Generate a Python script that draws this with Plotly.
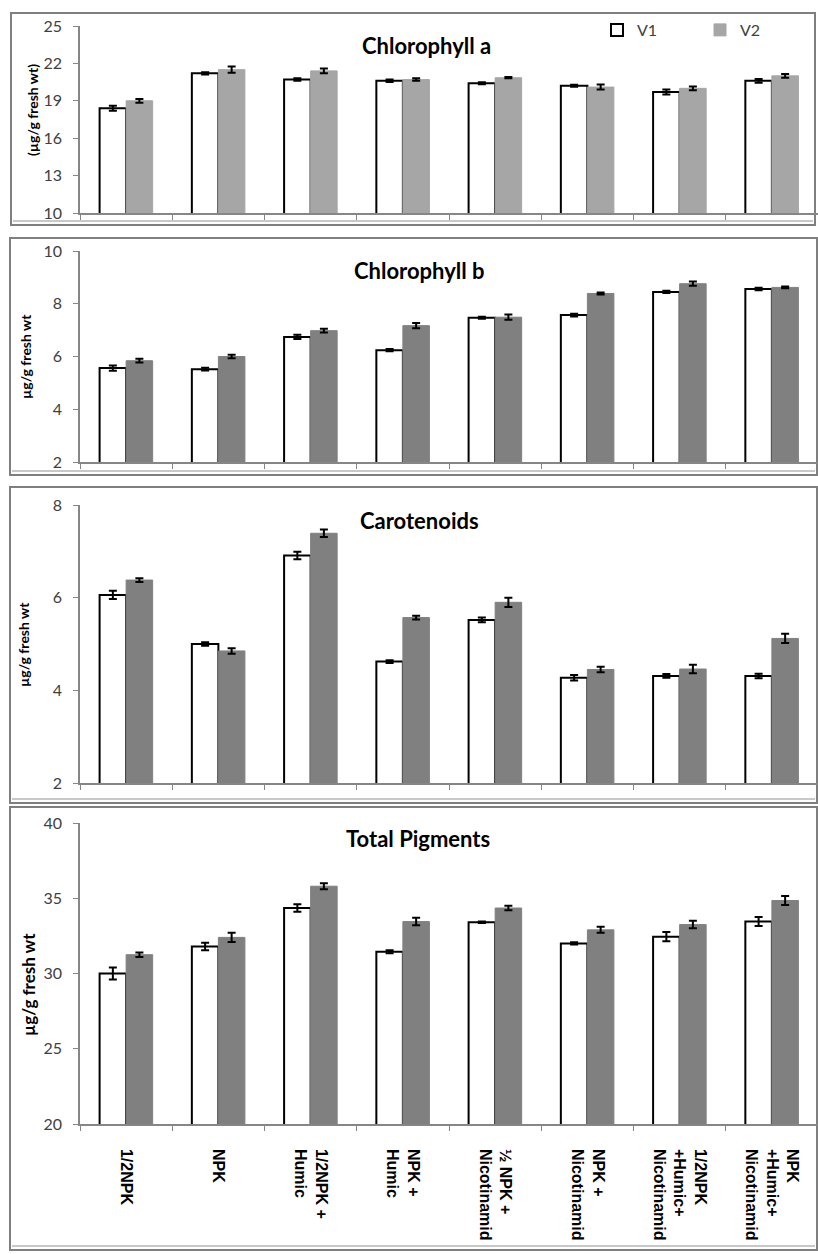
import plotly.graph_objects as go

categories = ["1/2NPK", "NPK", "1/2NPK +<br>Humic", "NPK +<br>Humic",
              "½ NPK +<br>Nicotinamid", "NPK +<br>Nicotinamid",
              "1/2NPK<br>+Humic+<br>Nicotinamid", "NPK<br>+Humic+<br>Nicotinamid"]

chl_a_v1 = [18.4, 21.2, 20.7, 20.6, 20.4, 20.2, 19.7, 20.6]
chl_a_v2 = [19.0, 21.5, 21.4, 20.7, 20.85, 20.1, 20.0, 21.0]
chl_a_e1 = [0.2, 0.1, 0.1, 0.1, 0.08, 0.08, 0.2, 0.15]
chl_a_e2 = [0.15, 0.25, 0.2, 0.1, 0.05, 0.2, 0.15, 0.15]

chl_b_v1 = [5.56, 5.52, 6.74, 6.24, 7.47, 7.57, 8.45, 8.56]
chl_b_v2 = [5.84, 6.0, 6.98, 7.17, 7.49, 8.39, 8.76, 8.62]
chl_b_e1 = [0.1, 0.05, 0.08, 0.04, 0.04, 0.05, 0.04, 0.05]
chl_b_e2 = [0.07, 0.07, 0.07, 0.1, 0.1, 0.04, 0.08, 0.03]

car_v1 = [6.06, 5.0, 6.91, 4.62, 5.52, 4.27, 4.31, 4.31]
car_v2 = [6.38, 4.85, 7.39, 5.57, 5.90, 4.45, 4.46, 5.12]
car_e1 = [0.09, 0.04, 0.08, 0.03, 0.05, 0.06, 0.04, 0.05]
car_e2 = [0.04, 0.06, 0.08, 0.04, 0.1, 0.06, 0.09, 0.1]

tot_v1 = [30.0, 31.8, 34.35, 31.45, 33.4, 32.0, 32.45, 33.45]
tot_v2 = [31.25, 32.4, 35.8, 33.45, 34.35, 32.9, 33.25, 34.85]
tot_e1 = [0.4, 0.25, 0.25, 0.1, 0.05, 0.07, 0.3, 0.3]
tot_e2 = [0.15, 0.3, 0.2, 0.25, 0.15, 0.2, 0.25, 0.3]

titles = ["Chlorophyll a", "Chlorophyll b", "Carotenoids", "Total Pigments"]
y_titles = ["(µg/g fresh wt)", "µg/g fresh wt", "µg/g fresh wt", "µg/g fresh wt"]
y_ranges = [[10, 25], [2, 10], [2, 8], [20, 40]]
y_dticks = [3, 2, 2, 5]

W, H = 818, 1254
def fy(px):
    return 1 - px / H
def fx(px):
    return px / W

# plot-area pixel extents (top, bottom) per panel
panels_px = [(26, 213), (251, 462), (505, 783), (823, 1124)]
frames_px = [(11, 13, 815, 225), (10, 238, 817, 475), (10, 487, 817, 803), (10, 807, 817, 1250)]
title_px = [(426, 45), (419, 270), (419, 520), (418, 838)]
ytitle_px = [(32, 110, 14), (25, 357, 14), (23, 645, 14), (28, 985, 17)]

data = [
    (chl_a_v1, chl_a_e1, chl_a_v2, chl_a_e2, "#a6a6a6"),
    (chl_b_v1, chl_b_e1, chl_b_v2, chl_b_e2, "#808080"),
    (car_v1, car_e1, car_v2, car_e2, "#808080"),
    (tot_v1, tot_e1, tot_v2, tot_e2, "#808080"),
]

fig = go.Figure()
layout = dict(
    width=W, height=H, margin=dict(l=0, r=0, t=0, b=0, autoexpand=False),
    paper_bgcolor="white", plot_bgcolor="white",
    barmode="group", bargap=0.425, bargroupgap=0,
    showlegend=True,
    legend=dict(orientation="h", x=fx(597), y=fy(30), xanchor="left", yanchor="middle",
                font=dict(family="Lato", size=16, color="#404040"),
                bgcolor="rgba(0,0,0,0)", entrywidth=58, traceorder="normal",
                itemclick=False),
)
annotations = []
shapes = []

for i, (v1, e1, v2, e2, c2) in enumerate(data):
    n = "" if i == 0 else str(i + 1)
    xa, ya = "x" + n, "y" + n
    fig.add_trace(go.Bar(
        x=categories, y=v1, name="V1", xaxis=xa, yaxis=ya,
        marker=dict(color="white", line=dict(color="black", width=2)),
        error_y=dict(type="data", array=e1, color="black", thickness=2, width=4),
        showlegend=(i == 0), legendgroup="V1", offsetgroup="1",
    ))
    fig.add_trace(go.Bar(
        x=categories, y=v2, name="V2", xaxis=xa, yaxis=ya,
        marker=dict(color=c2, line=dict(color=c2, width=1)),
        error_y=dict(type="data", array=e2, color="black", thickness=2, width=4),
        showlegend=(i == 0), legendgroup="V2", offsetgroup="2",
    ))
    top, bot = panels_px[i]
    layout["xaxis" + n] = dict(
        domain=[fx(80), 1.0], anchor=ya, type="category",
        showline=True, linecolor="#868686", linewidth=1.5,
        ticks="outside", tickson="boundaries", ticklen=5, tickcolor="#868686",
        showticklabels=(i == 3), tickangle=90, ticklabelstandoff=20,
        tickfont=dict(family="Liberation Sans", size=16, color="black", weight="bold"),
        showgrid=False, zeroline=False, automargin=False,
    )
    layout["yaxis" + n] = dict(
        domain=[fy(bot), fy(top)], anchor=xa, range=y_ranges[i],
        tick0=y_ranges[i][0], dtick=y_dticks[i],
        showline=True, linecolor="#868686", linewidth=1.5,
        ticks="outside", ticklen=5, tickcolor="#868686",
        tickfont=dict(family="Lato", size=16, color="#404040"),
        showgrid=False, zeroline=False, ticklabelstandoff=8, automargin=False,
    )
    tx, ty = title_px[i]
    annotations.append(dict(text="<b>" + titles[i] + "</b>", x=fx(tx), y=fy(ty),
                            xref="paper", yref="paper", showarrow=False,
                            xanchor="center", yanchor="middle",
                            font=dict(family="Lato", size=22, color="black")))
    yx, yy, ys = ytitle_px[i]
    annotations.append(dict(text="<b>" + y_titles[i] + "</b>", x=fx(yx), y=fy(yy),
                            xref="paper", yref="paper", showarrow=False, textangle=-90,
                            xanchor="center", yanchor="middle",
                            font=dict(family="Lato", size=ys, color="black")))
    l, t, r, b = frames_px[i]
    shapes.append(dict(type="rect", xref="paper", yref="paper",
                       x0=fx(l), x1=fx(r), y0=fy(b), y1=fy(t),
                       line=dict(color="#7f7f7f", width=2), layer="below"))
    shapes.append(dict(type="line", xref="paper", yref="paper",
                       x0=fx(l + 2), x1=fx(r - 2), y0=fy(b - 4), y1=fy(b - 4),
                       line=dict(color="#c8c8c8", width=2), layer="below"))

layout["annotations"] = annotations
layout["shapes"] = shapes
fig.update_layout(**layout)
fig.write_html("out.html", config={"displayModeBar": False},
               post_script="document.body.style.margin='0px';")
